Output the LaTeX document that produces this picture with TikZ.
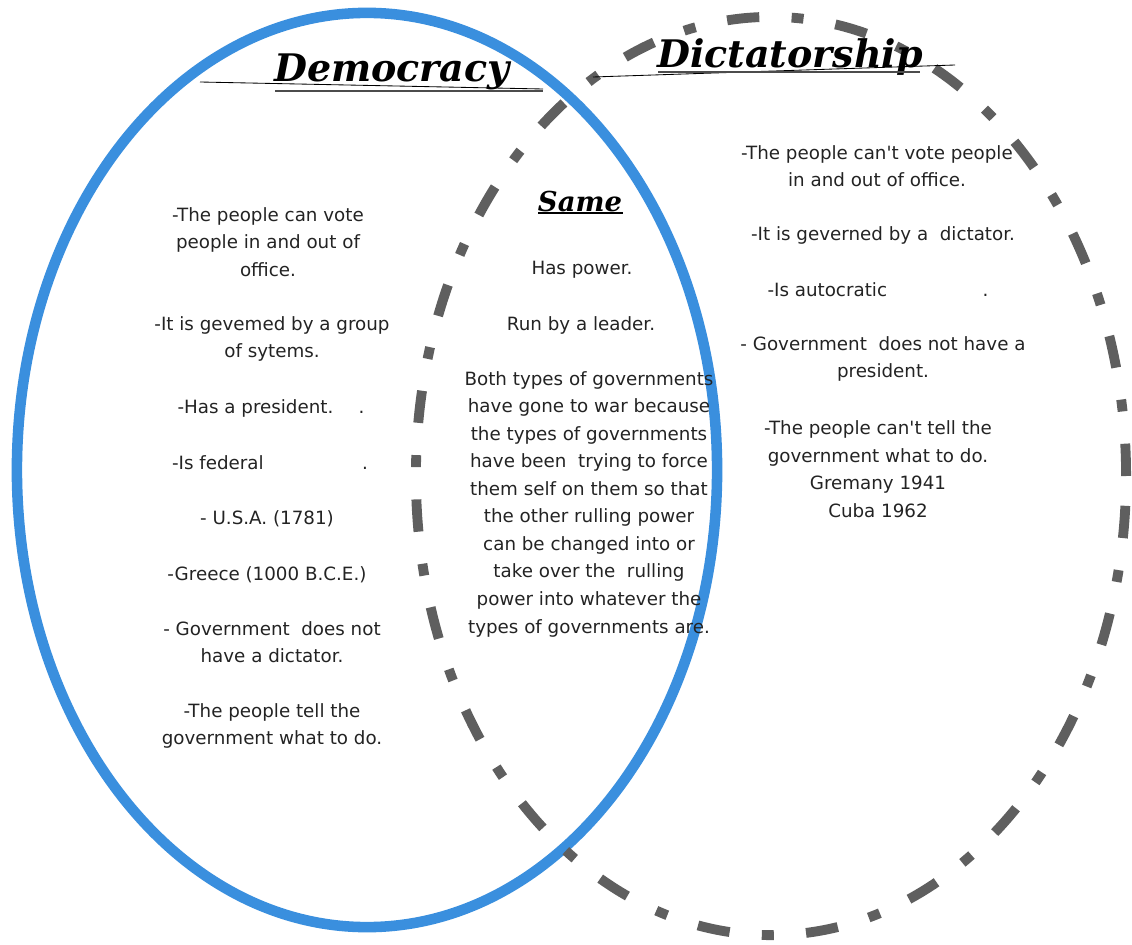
\documentclass[tikz,border=0pt]{standalone}
\usepackage{fontspec}
\setmainfont{DejaVu Sans}
\newfontfamily\headfont{DejaVu Serif}
\definecolor{demoblue}{RGB}{58,143,222}
\definecolor{dictgray}{RGB}{95,95,95}
\definecolor{inkgray}{RGB}{35,35,35}

\begin{document}
\begin{tikzpicture}[x=0.025cm, y=-0.025cm,
    point/.style={font=\fontsize{13}{19.6}\selectfont, text=inkgray, align=center, inner sep=0pt},
    heading/.style={font=\headfont\bfseries\itshape\fontsize{27}{30}\selectfont, inner sep=0pt}]
  \useasboundingbox (0,0) rectangle (1132,945);
  % the two sets
  \draw[demoblue, line width=7.5pt] (367,470) ellipse [x radius=8.75cm, y radius=11.425cm];
  \draw[dictgray, line width=7pt, dash pattern=on 23pt off 23pt on 8.5pt off 23pt]
    (771,476) ellipse [x radius=8.875cm, y radius=11.475cm];

  % headings
  \node[heading] (demo) at (392,72) {Democracy};
  \draw[black, line width=0.6pt] (200,82) -- (543,89);
  \draw[black!70, line width=1.6pt] (275,91) -- (543,91);
  \node[heading] (dict) at (790,57) {Dictatorship};
  \draw[black, line width=0.6pt] (593,77) -- (955,65);
  \draw[black!70, line width=1.6pt] (658,72) -- (920,72);
  \node[heading, font=\headfont\bfseries\itshape\fontsize{19.5}{22}\selectfont] (same) at (580,202) {Same};
  \draw[black, line width=0.9pt] (538,213) -- (623,213);

  % democracy only
  \node[point] (d1) at (268,242) {-The people can vote\\people in and out of\\office.};
  \node[point] (d2) at (272,339) {-It is gevemed by a group\\of sytems.};
  \node[point] (d3) at (271,408) {-Has a president.\hspace{18pt}.};
  \node[point] (d4) at (270,463) {-Is federal\hspace{70pt}.};
  \node[point] (d5) at (267,519) {- U.S.A. (1781)};
  \node[point] (d6) at (267,575) {-Greece (1000 B.C.E.)};
  \node[point] (d7) at (272,642) {- Government\ \ does not\\have a dictator.};
  \node[point] (d8) at (272,726) {-The people tell the\\government what to do.};

  % both
  \node[point] (s1) at (582,270) {Has power.};
  \node[point] (s2) at (581,325) {Run by a leader.};
  \node[point] (s3) at (589,504) {Both types of governments\\have gone to war because\\the types of governments\\
    have been\ \ trying to force\\them self on them so that\\the other rulling power\\can be changed into or\\
    take over the\ \ rulling\\power into whatever the\\types of governments are.};

  % dictatorship only
  \node[point] (k1) at (877,166) {-The people can\textquotesingle t vote people\\in and out of office.};
  \node[point] (k2) at (883,235) {-It is geverned by a\ \ dictator.};
  \node[point] (k3) at (878,290) {-Is autocratic\hspace{68pt}.};
  \node[point] (k4) at (883,359) {- Government\ \ does not have a\\president.};
  \node[point] (k5) at (878,469) {-The people can\textquotesingle t tell the\\government what to do.\\Gremany 1941\\Cuba 1962};
\end{tikzpicture}
\end{document}
